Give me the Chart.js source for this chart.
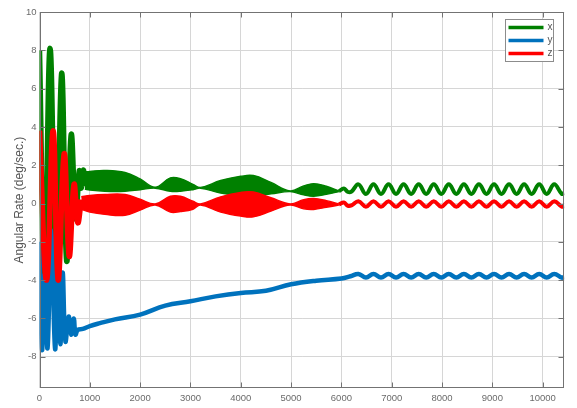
<!DOCTYPE html>
<html>
<head>
<meta charset="utf-8">
<script src="https://cdn.jsdelivr.net/npm/chart.js@4.4.1/dist/chart.umd.min.js"></script>
<style>
  html, body { margin: 0; padding: 0; background: #fff; }
  #wrap { width: 577px; height: 408px; }
</style>
</head>
<body>
<div id="wrap"><canvas id="rateChart" width="577" height="408"></canvas></div>
<script>
// x rate (green): start-up swings, beating band, then settled ripple
const xTransT = [0, 100, 210, 330, 440, 540, 630, 720, 790, 830, 870, 910];
const xTransV = [8.0, -4.3, 8.1, -4.4, 6.8, -3.0, 3.6, -0.8, 1.7, 0.8, 1.75, 0.9];
const xBandT  = [900, 1000, 1300, 1700, 2000, 2300, 2600, 2800, 3050, 3200, 3600, 4000, 4250, 4600, 4980, 5250, 5450, 5700, 5950];
const xBandHi = [1.65, 1.68, 1.73, 1.62, 1.28, 0.85, 1.34, 1.30, 1.0, 0.84, 1.2, 1.42, 1.46, 1.1, 0.66, 0.92, 1.04, 0.9, 0.66];
const xBandLo = [0.75, 0.70, 0.64, 0.64, 0.72, 0.80, 0.64, 0.64, 0.72, 0.80, 0.55, 0.42, 0.42, 0.5, 0.62, 0.45, 0.38, 0.48, 0.62];
const xWaveT  = [5950, 6050, 6130, 6200, 6338, 6488, 6637, 6787, 6937, 7086, 7236, 7386, 7536, 7685, 7835, 7985, 8134, 8284, 8434, 8583, 8733, 8883, 9033, 9182, 9332, 9482, 9631, 9781, 9931, 10080, 10230, 10380, 10430];
const xWaveV  = [0.64, 0.78, 0.6, 0.62, 1.0, 0.5, 1.0, 0.5, 1.0, 0.5, 1.0, 0.5, 1.0, 0.5, 1.0, 0.5, 1.0, 0.5, 1.0, 0.5, 1.0, 0.5, 1.0, 0.5, 1.0, 0.5, 1.0, 0.5, 1.0, 0.5, 1.0, 0.5, 0.55];

// y rate (blue): one trace, swings then slow drift up to a small ripple
const yT = [0, 50, 100, 160, 230, 310, 360, 415, 460, 515, 580, 625, 680, 715, 760, 860, 1000, 1200, 1500, 2000, 2500, 3000, 3500, 4000, 4500, 5000, 5500, 6000, 6180,
            6338, 6488, 6637, 6787, 6937, 7086, 7236, 7386, 7536, 7685, 7835, 7985, 8134, 8284, 8434, 8583, 8733, 8883, 9033, 9182, 9332, 9482, 9631, 9781, 9931, 10080, 10230, 10380, 10430];
const yV = [-2.0, -7.65, -3.7, -7.55, -1.4, -7.6, -3.55, -7.35, -3.6, -7.2, -5.9, -6.85, -6.0, -6.85, -6.6, -6.55, -6.4, -6.25, -6.05, -5.8, -5.33, -5.1, -4.85, -4.67, -4.56, -4.22, -4.03, -3.92, -3.8,
            -3.68, -3.87, -3.68, -3.87, -3.68, -3.87, -3.68, -3.87, -3.68, -3.87, -3.68, -3.87, -3.68, -3.87, -3.68, -3.87, -3.68, -3.87, -3.68, -3.87, -3.68, -3.87, -3.68, -3.87, -3.68, -3.87, -3.68, -3.87, -3.84];

// z rate (red)
const zTransT = [0, 140, 270, 370, 490, 590, 686, 760, 830];
const zTransV = [3.8, -4.0, 3.8, -4.0, 2.6, -2.75, 1.0, -1.0, 0.2];
const zBandT  = [830, 1000, 1300, 1700, 2000, 2300, 2600, 2800, 3050, 3200, 3600, 4000, 4250, 4600, 4980, 5250, 5450, 5700, 5950];
const zBandHi = [0.35, 0.42, 0.47, 0.47, 0.22, -0.02, 0.38, 0.38, 0.12, -0.02, 0.35, 0.58, 0.6, 0.3, -0.02, 0.2, 0.26, 0.15, -0.02];
const zBandLo = [-0.3, -0.45, -0.57, -0.62, -0.35, -0.08, -0.45, -0.42, -0.3, -0.08, -0.45, -0.66, -0.7, -0.4, -0.08, -0.28, -0.31, -0.2, -0.08];
const zWaveT  = [5950, 6050, 6130, 6200, 6338, 6488, 6637, 6787, 6937, 7086, 7236, 7386, 7536, 7685, 7835, 7985, 8134, 8284, 8434, 8583, 8733, 8883, 9033, 9182, 9332, 9482, 9631, 9781, 9931, 10080, 10230, 10380, 10430];
const zWaveV  = [-0.05, 0.05, -0.12, -0.1, 0.12, -0.17, 0.12, -0.17, 0.12, -0.17, 0.12, -0.17, 0.12, -0.17, 0.12, -0.17, 0.12, -0.17, 0.12, -0.17, 0.12, -0.17, 0.12, -0.17, 0.12, -0.17, 0.12, -0.17, 0.12, -0.17, 0.12, -0.17, -0.14];

const seriesNames = ['x', 'y', 'z'];
const xTickVals = [0, 1000, 2000, 3000, 4000, 5000, 6000, 7000, 8000, 9000, 10000];
const yTickVals = [-8, -6, -4, -2, 0, 2, 4, 6, 8, 10];

const GREEN = '#008000', BLUE = '#0072BD', RED = '#FF0000';
const colors = [GREEN, BLUE, RED];

const pts = (t, v) => t.map((tt, i) => ({x: tt, y: v[i]}));

function line(data, color, width, order) {
    return {data, borderColor: color, backgroundColor: color, borderWidth: width,
            tension: 0.4, fill: false, order};
}

// band = fast oscillation drawn as the area between its two envelopes
function band(t, hi, lo, color, order) {
    return [
        {...line(pts(t, hi), color, 1.4, order), fill: '+1'},
        line(pts(t, lo), color, 1.4, order)
    ];
}

const datasets = [
    line(pts(xTransT, xTransV), GREEN, 5.5, 3),
    ...band(xBandT, xBandHi, xBandLo, GREEN, 3),
    line(pts(xWaveT, xWaveV), GREEN, 4, 3),
    line(pts(yT, yV), BLUE, 4.5, 2),
    line(pts(zTransT, zTransV), RED, 5.5, 1),
    ...band(zBandT, zBandHi, zBandLo, RED, 1),
    line(pts(zWaveT, zWaveV), RED, 4, 1)
];

// box around the axes with inward tick marks
const axesBox = {
    id: 'axesBox',
    afterDatasetsDraw(chart) {
        const {ctx, chartArea: a, scales} = chart;
        const L = Math.round(a.left) + 0.5, R = Math.round(a.right) - 0.5;
        const T = Math.round(a.top) + 0.5, B = Math.round(a.bottom) - 0.5;
        ctx.save();
        ctx.strokeStyle = '#737373';
        ctx.lineWidth = 1;
        ctx.strokeRect(L, T, R - L, B - T);
        ctx.beginPath();
        xTickVals.forEach(v => {
            const px = Math.round(scales.x.getPixelForValue(v)) + 0.5;
            ctx.moveTo(px, B); ctx.lineTo(px, B - 5);
            ctx.moveTo(px, T); ctx.lineTo(px, T + 5);
        });
        yTickVals.forEach(v => {
            const py = Math.round(scales.y.getPixelForValue(v)) + 0.5;
            ctx.moveTo(L, py); ctx.lineTo(L + 5, py);
            ctx.moveTo(R, py); ctx.lineTo(R - 5, py);
        });
        ctx.stroke();
        ctx.restore();
    }
};

// legend box in the upper right corner
const legendBox = {
    id: 'legendBox',
    afterDraw(chart) {
        const {ctx, chartArea: a} = chart;
        const x0 = Math.round(a.right - 59) + 0.5, y0 = Math.round(a.top + 7) + 0.5;
        ctx.save();
        ctx.fillStyle = '#fff';
        ctx.fillRect(x0, y0, 48, 42);
        ctx.strokeStyle = '#8c8c8c';
        ctx.lineWidth = 1;
        ctx.strokeRect(x0, y0, 48, 42);
        ctx.font = '10px "Liberation Sans", Arial, sans-serif';
        ctx.textBaseline = 'middle';
        seriesNames.forEach((name, i) => {
            const yy = y0 + 8 + i * 13;
            ctx.strokeStyle = colors[i];
            ctx.lineWidth = 3.5;
            ctx.beginPath();
            ctx.moveTo(x0 + 3, yy);
            ctx.lineTo(x0 + 38, yy);
            ctx.stroke();
            ctx.fillStyle = '#555';
            ctx.fillText(name, x0 + 42, yy);
        });
        ctx.restore();
    }
};

new Chart(document.getElementById('rateChart'), {
    type: 'line',
    data: {datasets},
    options: {
        responsive: false,
        animation: false,
        events: [],
        layout: {padding: {top: 12, right: 12.7, left: 0, bottom: 0}},
        elements: {point: {radius: 0}},
        plugins: {legend: {display: false}, tooltip: {enabled: false}},
        scales: {
            x: {
                type: 'linear',
                min: 0, max: 10430,
                afterFit: s => { s.height = 19.7; },
                afterBuildTicks: s => { s.ticks = xTickVals.map(v => ({value: v})); },
                border: {display: false},
                grid: {color: '#d6d6d6', drawTicks: false},
                ticks: {
                    color: '#6b6b6b', padding: 4, maxRotation: 0,
                    font: {family: '"Liberation Sans", Arial, sans-serif', size: 9.5},
                    callback: v => String(v)
                }
            },
            y: {
                type: 'linear',
                min: -9.65, max: 10,
                afterFit: s => { s.width = 39.5; },
                afterBuildTicks: s => { s.ticks = yTickVals.map(v => ({value: v})); },
                border: {display: false},
                grid: {color: '#d6d6d6', drawTicks: false},
                ticks: {
                    color: '#6b6b6b', padding: 3,
                    font: {family: '"Liberation Sans", Arial, sans-serif', size: 9.5},
                    callback: v => String(v)
                },
                title: {
                    display: true,
                    text: 'Angular Rate (deg/sec.)',
                    color: '#555',
                    padding: {top: 12, bottom: 0},
                    font: {family: '"Liberation Sans", Arial, sans-serif', size: 12}
                }
            }
        }
    },
    plugins: [axesBox, legendBox]
});
</script>
</body>
</html>
